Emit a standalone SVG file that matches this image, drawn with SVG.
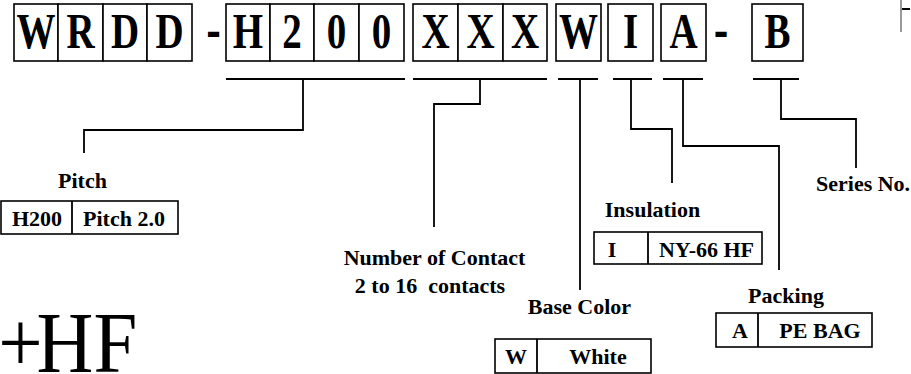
<svg xmlns="http://www.w3.org/2000/svg" width="911" height="374" viewBox="0 0 911 374">
<style>
.cell{fill:#fff;stroke:#000;stroke-width:1.6}
.big{font-family:"Liberation Serif","Times New Roman",serif;font-weight:bold;font-size:50px;text-anchor:middle;fill:#000}
.lbl{font-family:"Liberation Serif","Times New Roman",serif;font-weight:bold;font-size:22px;text-anchor:middle;fill:#000}
.dash{font-family:"Liberation Sans",Arial,sans-serif;font-weight:bold;font-size:44px;text-anchor:middle;fill:#000}
.ln{fill:none;stroke:#000;stroke-width:1.8}
</style>
<rect width="911" height="374" fill="#fff"/>

<g id="code">
  <g id="c-wrdd">
    <rect class="cell" x="14" y="4" width="44" height="57"/>
    <rect class="cell" x="58" y="4" width="45" height="57"/>
    <rect class="cell" x="103" y="4" width="44" height="57"/>
    <rect class="cell" x="147" y="4" width="45" height="57"/>
    <text class="big" transform="translate(36,48) scale(0.78,1)">W</text>
    <text class="big" transform="translate(80.5,48) scale(0.78,1)">R</text>
    <text class="big" transform="translate(125,48) scale(0.78,1)">D</text>
    <text class="big" transform="translate(169.5,48) scale(0.78,1)">D</text>
  </g>
  <text class="dash" x="213.5" y="46">-</text>
  <g id="c-h200">
    <rect class="cell" x="226" y="4" width="44" height="57"/>
    <rect class="cell" x="270" y="4" width="44" height="57"/>
    <rect class="cell" x="314" y="4" width="45" height="57"/>
    <rect class="cell" x="359" y="4" width="45" height="57"/>
    <text class="big" transform="translate(248,48) scale(0.78,1)">H</text>
    <text class="big" transform="translate(292,48) scale(0.78,1)">2</text>
    <text class="big" transform="translate(336.5,48) scale(0.78,1)">0</text>
    <text class="big" transform="translate(381.5,48) scale(0.78,1)">0</text>
  </g>
  <g id="c-xxx">
    <rect class="cell" x="413" y="4" width="45" height="57"/>
    <rect class="cell" x="458" y="4" width="45" height="57"/>
    <rect class="cell" x="503" y="4" width="44" height="57"/>
    <text class="big" transform="translate(435.5,48) scale(0.78,1)">X</text>
    <text class="big" transform="translate(480.5,48) scale(0.78,1)">X</text>
    <text class="big" transform="translate(525,48) scale(0.78,1)">X</text>
  </g>
  <g id="c-w">
    <rect class="cell" x="556" y="4" width="45" height="57"/>
    <text class="big" transform="translate(578.5,48) scale(0.78,1)">W</text>
  </g>
  <g id="c-i">
    <rect class="cell" x="608" y="4" width="45" height="57"/>
    <text class="big" transform="translate(630.5,48) scale(0.78,1)">I</text>
  </g>
  <g id="c-a">
    <rect class="cell" x="661" y="4" width="45" height="57"/>
    <text class="big" transform="translate(683.5,48) scale(0.78,1)">A</text>
  </g>
  <text class="dash" x="721" y="46">-</text>
  <g id="c-b">
    <rect class="cell" x="752" y="4" width="51" height="57"/>
    <text class="big" transform="translate(777.5,48) scale(0.78,1)">B</text>
  </g>
</g>

<g id="connectors">
  <path class="ln" d="M226 79H405M413 79H547M558 79H598M613 79H652M663 79H703M753 79H799"/>
  <path class="ln" d="M303 79V130H84V153"/>
  <path class="ln" d="M480 79V104H434V227"/>
  <path class="ln" d="M580 79V290"/>
  <path class="ln" d="M631 79V129H672V183"/>
  <path class="ln" d="M683 79V146H779V270"/>
  <path class="ln" d="M781 79V119H856V168"/>
</g>

<g id="pitch">
  <text class="lbl" x="82.5" y="188">Pitch</text>
  <rect class="cell" x="1" y="201" width="177" height="33"/>
  <line class="ln" x1="72" y1="201" x2="72" y2="234" stroke-width="1.6"/>
  <text class="lbl" x="37" y="226">H200</text>
  <text class="lbl" x="124" y="226">Pitch 2.0</text>
</g>

<g id="contacts">
  <text class="lbl" x="434.5" y="265">Number of Contact</text>
  <text class="lbl" x="430" y="293" xml:space="preserve">2 to 16  contacts</text>
</g>

<g id="basecolor">
  <text class="lbl" x="579.5" y="314">Base Color</text>
  <rect class="cell" x="495" y="339" width="156" height="34"/>
  <line class="ln" x1="537" y1="339" x2="537" y2="373" stroke-width="1.6"/>
  <text class="lbl" x="516" y="364">W</text>
  <text class="lbl" x="598" y="364">White</text>
</g>

<g id="insulation">
  <text class="lbl" x="652.5" y="217">Insulation</text>
  <rect class="cell" x="594" y="232" width="168" height="32"/>
  <line class="ln" x1="648" y1="232" x2="648" y2="264" stroke-width="1.6"/>
  <text class="lbl" x="612" y="257">I</text>
  <text class="lbl" x="706.5" y="257">NY-66 HF</text>
</g>

<g id="packing">
  <text class="lbl" x="786" y="303">Packing</text>
  <rect class="cell" x="716" y="313" width="156" height="34"/>
  <line class="ln" x1="758" y1="313" x2="758" y2="347" stroke-width="1.6"/>
  <text class="lbl" x="740" y="338">A</text>
  <text class="lbl" x="820" y="338">PE BAG</text>
</g>

<g id="series">
  <text class="lbl" x="816" y="191" style="text-anchor:start">Series No.</text>
</g>

<g id="hf">
  <text transform="translate(0,372) scale(0.915,1)" style="font-family:'Liberation Serif','Times New Roman',serif;font-size:86px;fill:#000"><tspan x="-2">+</tspan><tspan x="40">HF</tspan></text>
</g>

<g id="corner">
  <line x1="901" y1="0" x2="901" y2="32" stroke="#777" stroke-width="1.5"/>
  <line x1="902" y1="9" x2="910" y2="9" stroke="#000" stroke-width="2"/>
</g>
</svg>
